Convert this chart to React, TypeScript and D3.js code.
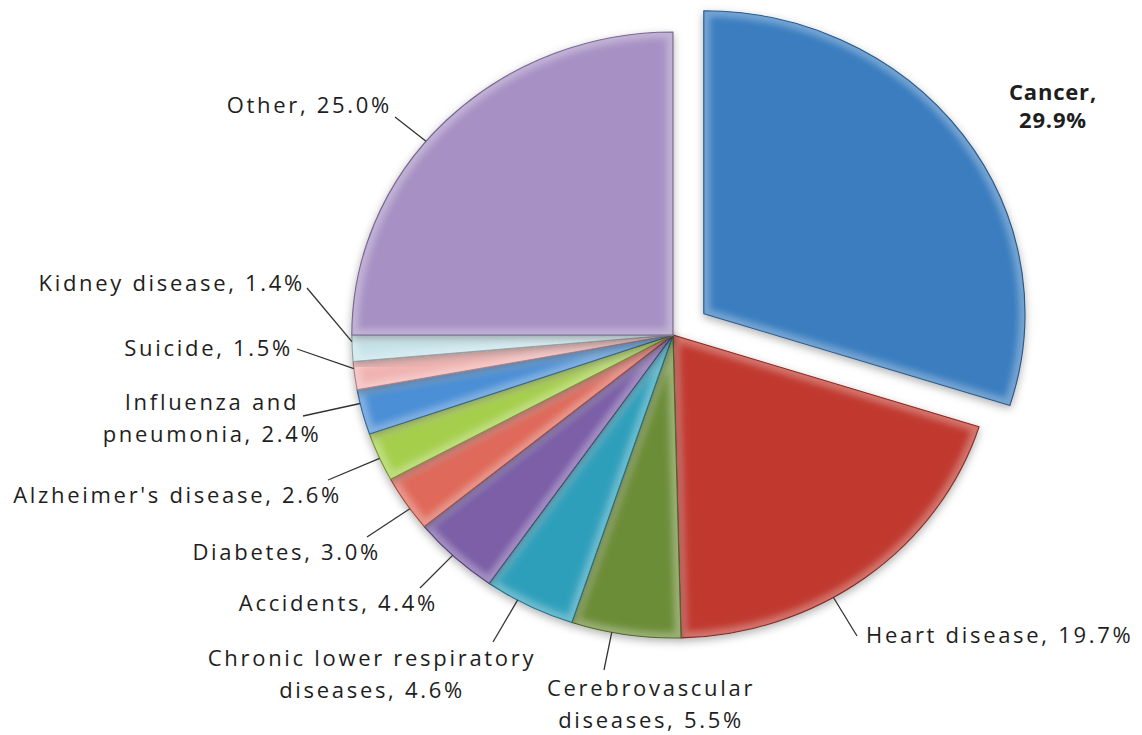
import React from 'react';
import * as d3 from 'd3';

// ── Data ──────────────────────────────────────────────────────────────────────
const categories = [
  'Cancer',
  'Heart disease',
  'Cerebrovascular diseases',
  'Chronic lower respiratory diseases',
  'Accidents',
  'Diabetes',
  "Alzheimer's disease",
  'Influenza and pneumonia',
  'Suicide',
  'Kidney disease',
  'Other',
];
const shares = [29.9, 19.7, 5.5, 4.6, 4.4, 3.0, 2.6, 2.4, 1.5, 1.4, 25.0];
const sliceColors = [
  '#3a7dbf', '#c0392f', '#6c8d38', '#2f9fbb', '#7b5ea7', '#df6a5b',
  '#a5cf4c', '#4b8fd6', '#f0b2b0', '#c7e3ea', '#a791c4',
];

// ── Layout ────────────────────────────────────────────────────────────────────
const W = 1142;
const H = 735;
const CX = 673;
const CY = 335;
const R = 303;          // vertical radius
const SX = 1.06;        // the picture is a little wider than tall
const EXPLODE = 36;     // Cancer slice pulled out

// label text position + where its leader line starts (null = no leader)
type LabelPos = { x: number; y: number; anchor: 'start' | 'middle' | 'end'; brk: number; lead: [number, number] | null; bold?: boolean };
const LABEL_POS: LabelPos[] = [
  { x: 1053, y: 100, anchor: 'middle', brk: 1, lead: null, bold: true },
  { x: 866, y: 643, anchor: 'start', brk: 0, lead: [857, 636] },
  { x: 651, y: 696, anchor: 'middle', brk: 1, lead: [604, 670] },
  { x: 372, y: 666, anchor: 'middle', brk: 3, lead: [493, 642] },
  { x: 438, y: 611, anchor: 'end', brk: 0, lead: [420, 588] },
  { x: 381, y: 560, anchor: 'end', brk: 0, lead: [367, 537] },
  { x: 342, y: 503, anchor: 'end', brk: 0, lead: [328, 480] },
  { x: 212, y: 410, anchor: 'middle', brk: 2, lead: [303, 416] },
  { x: 293, y: 356, anchor: 'end', brk: 0, lead: [297, 349] },
  { x: 305, y: 291, anchor: 'end', brk: 0, lead: [307, 288] },
  { x: 392, y: 113, anchor: 'end', brk: 0, lead: [395, 117] },
];
const LINE_H = 32;
const FONT = '"Open Sans", "DejaVu Sans", sans-serif';

const TAU = Math.PI * 2;

export default function App() {
  const pie = d3.pie<number>().sort(null).value((d) => d);
  const arcs = pie(shares);
  const arc = d3.arc<d3.PieArcDatum<number>>().innerRadius(0).outerRadius(R);

  // point on the (stretched) outer rim in the slice, aimed toward the label
  const leaderEnd = (a: d3.PieArcDatum<number>, lx: number, ly: number) => {
    let t = Math.atan2((lx - CX) / (R * SX), -(ly - CY) / R);
    if (t < 0) t += TAU;
    const pad = (a.endAngle - a.startAngle) * 0.25;
    t = Math.max(a.startAngle + pad, Math.min(a.endAngle - pad, t));
    return [CX + R * SX * Math.sin(t), CY - R * Math.cos(t)];
  };

  return (
    <svg width={W} height={H} style={{ position: 'absolute', left: 0, top: 0, background: '#fff' }}>
      <defs>
        <filter id="shadow" x="-20%" y="-20%" width="140%" height="140%">
          <feDropShadow dx="0" dy="3" stdDeviation="4" floodColor="#000" floodOpacity="0.3" />
        </filter>
        <filter id="soft" x="-10%" y="-10%" width="120%" height="120%">
          <feGaussianBlur stdDeviation="3" />
        </filter>
        {arcs.map((a, i) => (
          <clipPath id={`clip${i}`} key={i}>
            <path d={arc(a) ?? ''} />
          </clipPath>
        ))}
      </defs>

      {/* Slices */}
      <g transform={`translate(${CX},${CY}) scale(${SX},1)`}>
        {arcs.map((a, i) => {
          const mid = (a.startAngle + a.endAngle) / 2;
          const off = i === 0 ? EXPLODE : 0;
          const dx = off * Math.sin(mid);
          const dy = -off * Math.cos(mid);
          const d = arc(a) ?? '';
          const base = sliceColors[i];
          return (
            <g key={i} transform={`translate(${dx},${dy})`} filter="url(#shadow)">
              <path d={d} fill={base} />
              <g clipPath={`url(#clip${i})`}>
                <path d={d} fill="none" stroke="#fff" strokeOpacity={0.3} strokeWidth={12} filter="url(#soft)" />
              </g>
              <path d={d} fill="none" stroke={d3.color(base)!.darker(0.9).formatHex()} strokeWidth={1.1} strokeLinejoin="round" />
            </g>
          );
        })}
      </g>

      {/* Leader lines */}
      {arcs.map((a, i) => {
        const p = LABEL_POS[i];
        if (!p.lead) return null;
        const [ex, ey] = leaderEnd(a, p.lead[0], p.lead[1]);
        return <line key={i} x1={p.lead[0]} y1={p.lead[1]} x2={ex} y2={ey} stroke="#333" strokeWidth={1.3} />;
      })}

      {/* Labels */}
      {arcs.map((a, i) => {
        const p = LABEL_POS[i];
        const words = `${categories[i]}, ${shares[i].toFixed(1)}%`.split(' ');
        const lines = p.brk > 0 ? [words.slice(0, p.brk).join(' '), words.slice(p.brk).join(' ')] : [words.join(' ')];
        return (
          <text
            key={i}
            x={p.x}
            y={p.y}
            textAnchor={p.anchor}
            fontFamily={FONT}
            fontSize={22}
            fontWeight={p.bold ? 700 : 400}
            letterSpacing={p.bold ? 0.8 : 2.7}
            fill="#1e1e1e"
          >
            {lines.map((l, j) => (
              <tspan key={j} x={p.x} dy={j === 0 ? 0 : p.bold ? 28 : LINE_H}>
                {l}
              </tspan>
            ))}
          </text>
        );
      })}
    </svg>
  );
}
